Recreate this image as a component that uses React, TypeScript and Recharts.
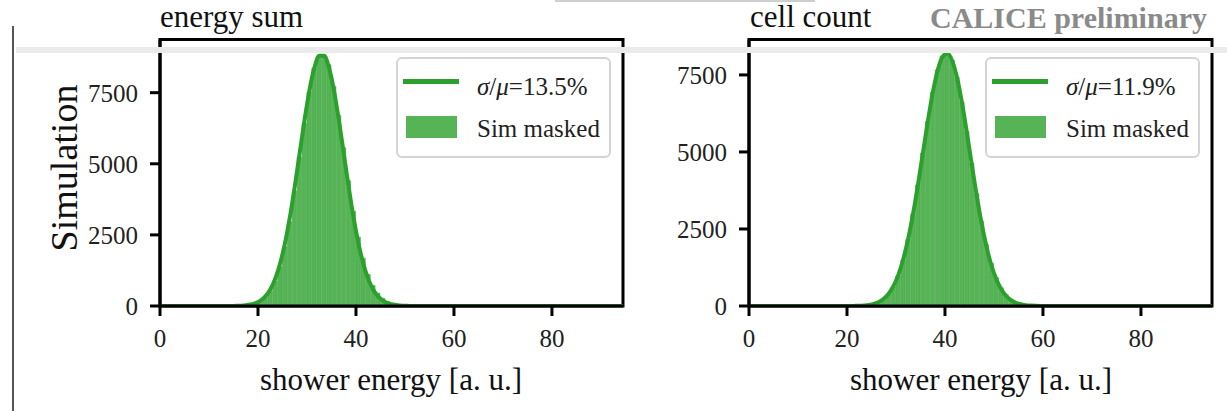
import React from "react";
import {
  ComposedChart,
  Bar,
  Line,
  XAxis,
  YAxis,
  Legend,
  ReferenceArea,
} from "recharts";

const FONT = '"Liberation Serif", "Times New Roman", serif';
const FIT_COLOR = "#2ca02c";
const BAR_COLOR = "#56b356";

// shared x axis
const xTicks = [0, 20, 40, 60, 80];
const yTicks = [0, 2500, 5000, 7500];

// energy sum: unit-wide bins starting at 14
const energyFirstBin = 14;
const energyHist = [
  0, 3, 8, 18, 40, 80, 160, 300, 520, 870, 1380, 2080, 2960, 4040, 5230, 6420,
  7520, 8360, 8760, 8800, 8480, 7720, 6700, 5560, 4400, 3330, 2420, 1680, 1110,
  720, 450, 270, 160, 90, 50, 26, 13, 6, 3,
];
const energyFit = [
  0, 5, 11, 24, 50, 98, 187, 338, 581, 953, 1487, 2204, 3115, 4195, 5368, 6540,
  7584, 8372, 8795, 8795, 8372, 7584, 6540, 5368, 4195, 3115, 2204, 1487, 953,
  581, 338, 187, 98, 50, 24, 11, 5, 2, 0,
];

// cell count: unit-wide bins starting at 20
const cellFirstBin = 20;
const cellHist = [
  0, 2, 5, 12, 28, 60, 115, 210, 370, 620, 985, 1490, 2160, 2980, 3930, 4960,
  5990, 6930, 7660, 8110, 8180, 7980, 7420, 6620, 5660, 4640, 3650, 2750, 1990,
  1380, 920, 590, 365, 215, 122, 66, 34, 17, 8, 4, 2,
];
const cellFit = [
  2, 4, 8, 18, 36, 71, 131, 234, 400, 652, 1020, 1527, 2191, 3006, 3952, 4973,
  5994, 6917, 7643, 8087, 8193, 7948, 7382, 6566, 5592, 4560, 3560, 2662, 1906,
  1306, 858, 539, 324, 187, 103, 55, 28, 13, 6, 3, 2,
];

const X_MAX = 94.5;

const buildRows = (first: number, hist: number[], fit: number[]) => [
  { x: 0, fit: 0 },
  ...hist.map((h, i) => ({ x: first + i + 0.5, hist: h, fit: fit[i] })),
  { x: X_MAX, fit: 0 },
];

const axisStroke = { stroke: "#000", strokeWidth: 3 };
const tickStyle = { fill: "#222", fontSize: 25, fontFamily: FONT };

const FitLegend = ({ label }: { label: string }) => (
  <div
    style={{
      position: "relative",
      width: 215,
      height: 101,
      boxSizing: "border-box",
      border: "2px solid #d4d4d4",
      borderRadius: 6,
      background: "rgba(255,255,255,0.85)",
      fontFamily: FONT,
      fontSize: 25,
      lineHeight: "25px",
      color: "#222",
    }}
  >
    <div
      style={{
        position: "absolute",
        left: 5,
        top: 20,
        width: 56,
        height: 5,
        background: FIT_COLOR,
      }}
    />
    <div style={{ position: "absolute", left: 79, top: 15, whiteSpace: "nowrap" }}>
      <i>σ</i>/<i>μ</i>={label}
    </div>
    <div
      style={{
        position: "absolute",
        left: 8,
        top: 57,
        width: 51,
        height: 22,
        background: BAR_COLOR,
      }}
    />
    <div style={{ position: "absolute", left: 79, top: 57, whiteSpace: "nowrap" }}>
      Sim masked
    </div>
  </div>
);

type PanelProps = {
  left: number;
  width: number;
  marginLeft: number;
  marginRight: number;
  yMax: number;
  rows: any[];
  fitLabel: string;
  legendLeft: number;
};

const Panel = ({
  left,
  width,
  marginLeft,
  marginRight,
  yMax,
  rows,
  fitLabel,
  legendLeft,
}: PanelProps) => (
  <div style={{ position: "absolute", left, top: 0 }}>
    <ComposedChart
      width={width}
      height={411}
      data={rows}
      margin={{ top: 39.5, right: marginRight, bottom: 45, left: marginLeft }}
    >
      <XAxis
        type="number"
        dataKey="x"
        domain={[0, X_MAX]}
        ticks={xTicks}
        allowDataOverflow
        height={60}
        tickSize={10}
        tickMargin={13}
        axisLine={axisStroke}
        tickLine={axisStroke}
        tick={tickStyle}
      />
      <YAxis
        type="number"
        domain={[0, yMax]}
        ticks={yTicks}
        allowDataOverflow
        width={60}
        tickSize={10}
        tickMargin={12}
        axisLine={axisStroke}
        tickLine={axisStroke}
        tick={tickStyle}
      />
      <Bar
        dataKey="hist"
        fill={BAR_COLOR}
        stroke="#43a843"
        strokeWidth={0.6}
        barSize={5}
        isAnimationActive={false}
      />
      <Line
        dataKey="fit"
        type="monotone"
        stroke={FIT_COLOR}
        strokeWidth={4}
        dot={false}
        isAnimationActive={false}
      />
      {/* frame around the plot area */}
      <ReferenceArea
        x1={0}
        x2={X_MAX}
        y1={0}
        y2={yMax}
        fill="none"
        stroke="#000"
        strokeWidth={3}
        ifOverflow="visible"
      />
      <Legend
        layout="horizontal"
        verticalAlign="middle"
        align="center"
        wrapperStyle={{ left: legendLeft, top: 57, width: 215, height: 101 }}
        content={() => <FitLegend label={fitLabel} />}
      />
    </ComposedChart>
  </div>
);

const textBase: React.CSSProperties = {
  position: "absolute",
  fontFamily: FONT,
  color: "#111",
  whiteSpace: "nowrap",
};

export default function App() {
  return (
    <div
      style={{
        position: "absolute",
        left: 0,
        top: 0,
        width: 1227,
        height: 411,
        background: "#fff",
        overflow: "hidden",
      }}
    >
      <Panel
        left={0}
        width={640}
        marginLeft={100}
        marginRight={17}
        yMax={9370}
        rows={buildRows(energyFirstBin, energyHist, energyFit)}
        fitLabel="13.5%"
        legendLeft={396}
      />
      <Panel
        left={590}
        width={637}
        marginLeft={99}
        marginRight={15}
        yMax={8650}
        rows={buildRows(cellFirstBin, cellHist, cellFit)}
        fitLabel="11.9%"
        legendLeft={395}
      />

      <div style={{ ...textBase, left: 160, top: 1, fontSize: 31, lineHeight: "31px" }}>
        energy sum
      </div>
      <div style={{ ...textBase, left: 750, top: 1, fontSize: 31, lineHeight: "31px" }}>
        cell count
      </div>
      <div
        style={{
          ...textBase,
          left: 930,
          top: 3,
          fontSize: 30,
          lineHeight: "30px",
          fontWeight: "bold",
          color: "#8a8a8a",
        }}
      >
        CALICE preliminary
      </div>

      <div style={{ ...textBase, left: 260, top: 364, fontSize: 31, lineHeight: "31px" }}>
        shower energy [a. u.]
      </div>
      <div style={{ ...textBase, left: 850, top: 364, fontSize: 31, lineHeight: "31px" }}>
        shower energy [a. u.]
      </div>
      <div
        style={{
          ...textBase,
          left: 64,
          top: 168,
          fontSize: 38,
          lineHeight: "38px",
          transform: "translate(-50%, -50%) rotate(-90deg)",
        }}
      >
        Simulation
      </div>

      {/* strip and rules around the figure */}
      <div
        style={{
          position: "absolute",
          left: 16,
          top: 47,
          width: 1211,
          height: 6,
          background: "#ebebeb",
        }}
      />
      <div
        style={{
          position: "absolute",
          left: 12,
          top: 26,
          width: 1.5,
          height: 385,
          background: "#555",
        }}
      />
      <div
        style={{
          position: "absolute",
          left: 555,
          top: 0,
          width: 260,
          height: 2,
          background: "#cfcfcf",
        }}
      />
    </div>
  );
}
